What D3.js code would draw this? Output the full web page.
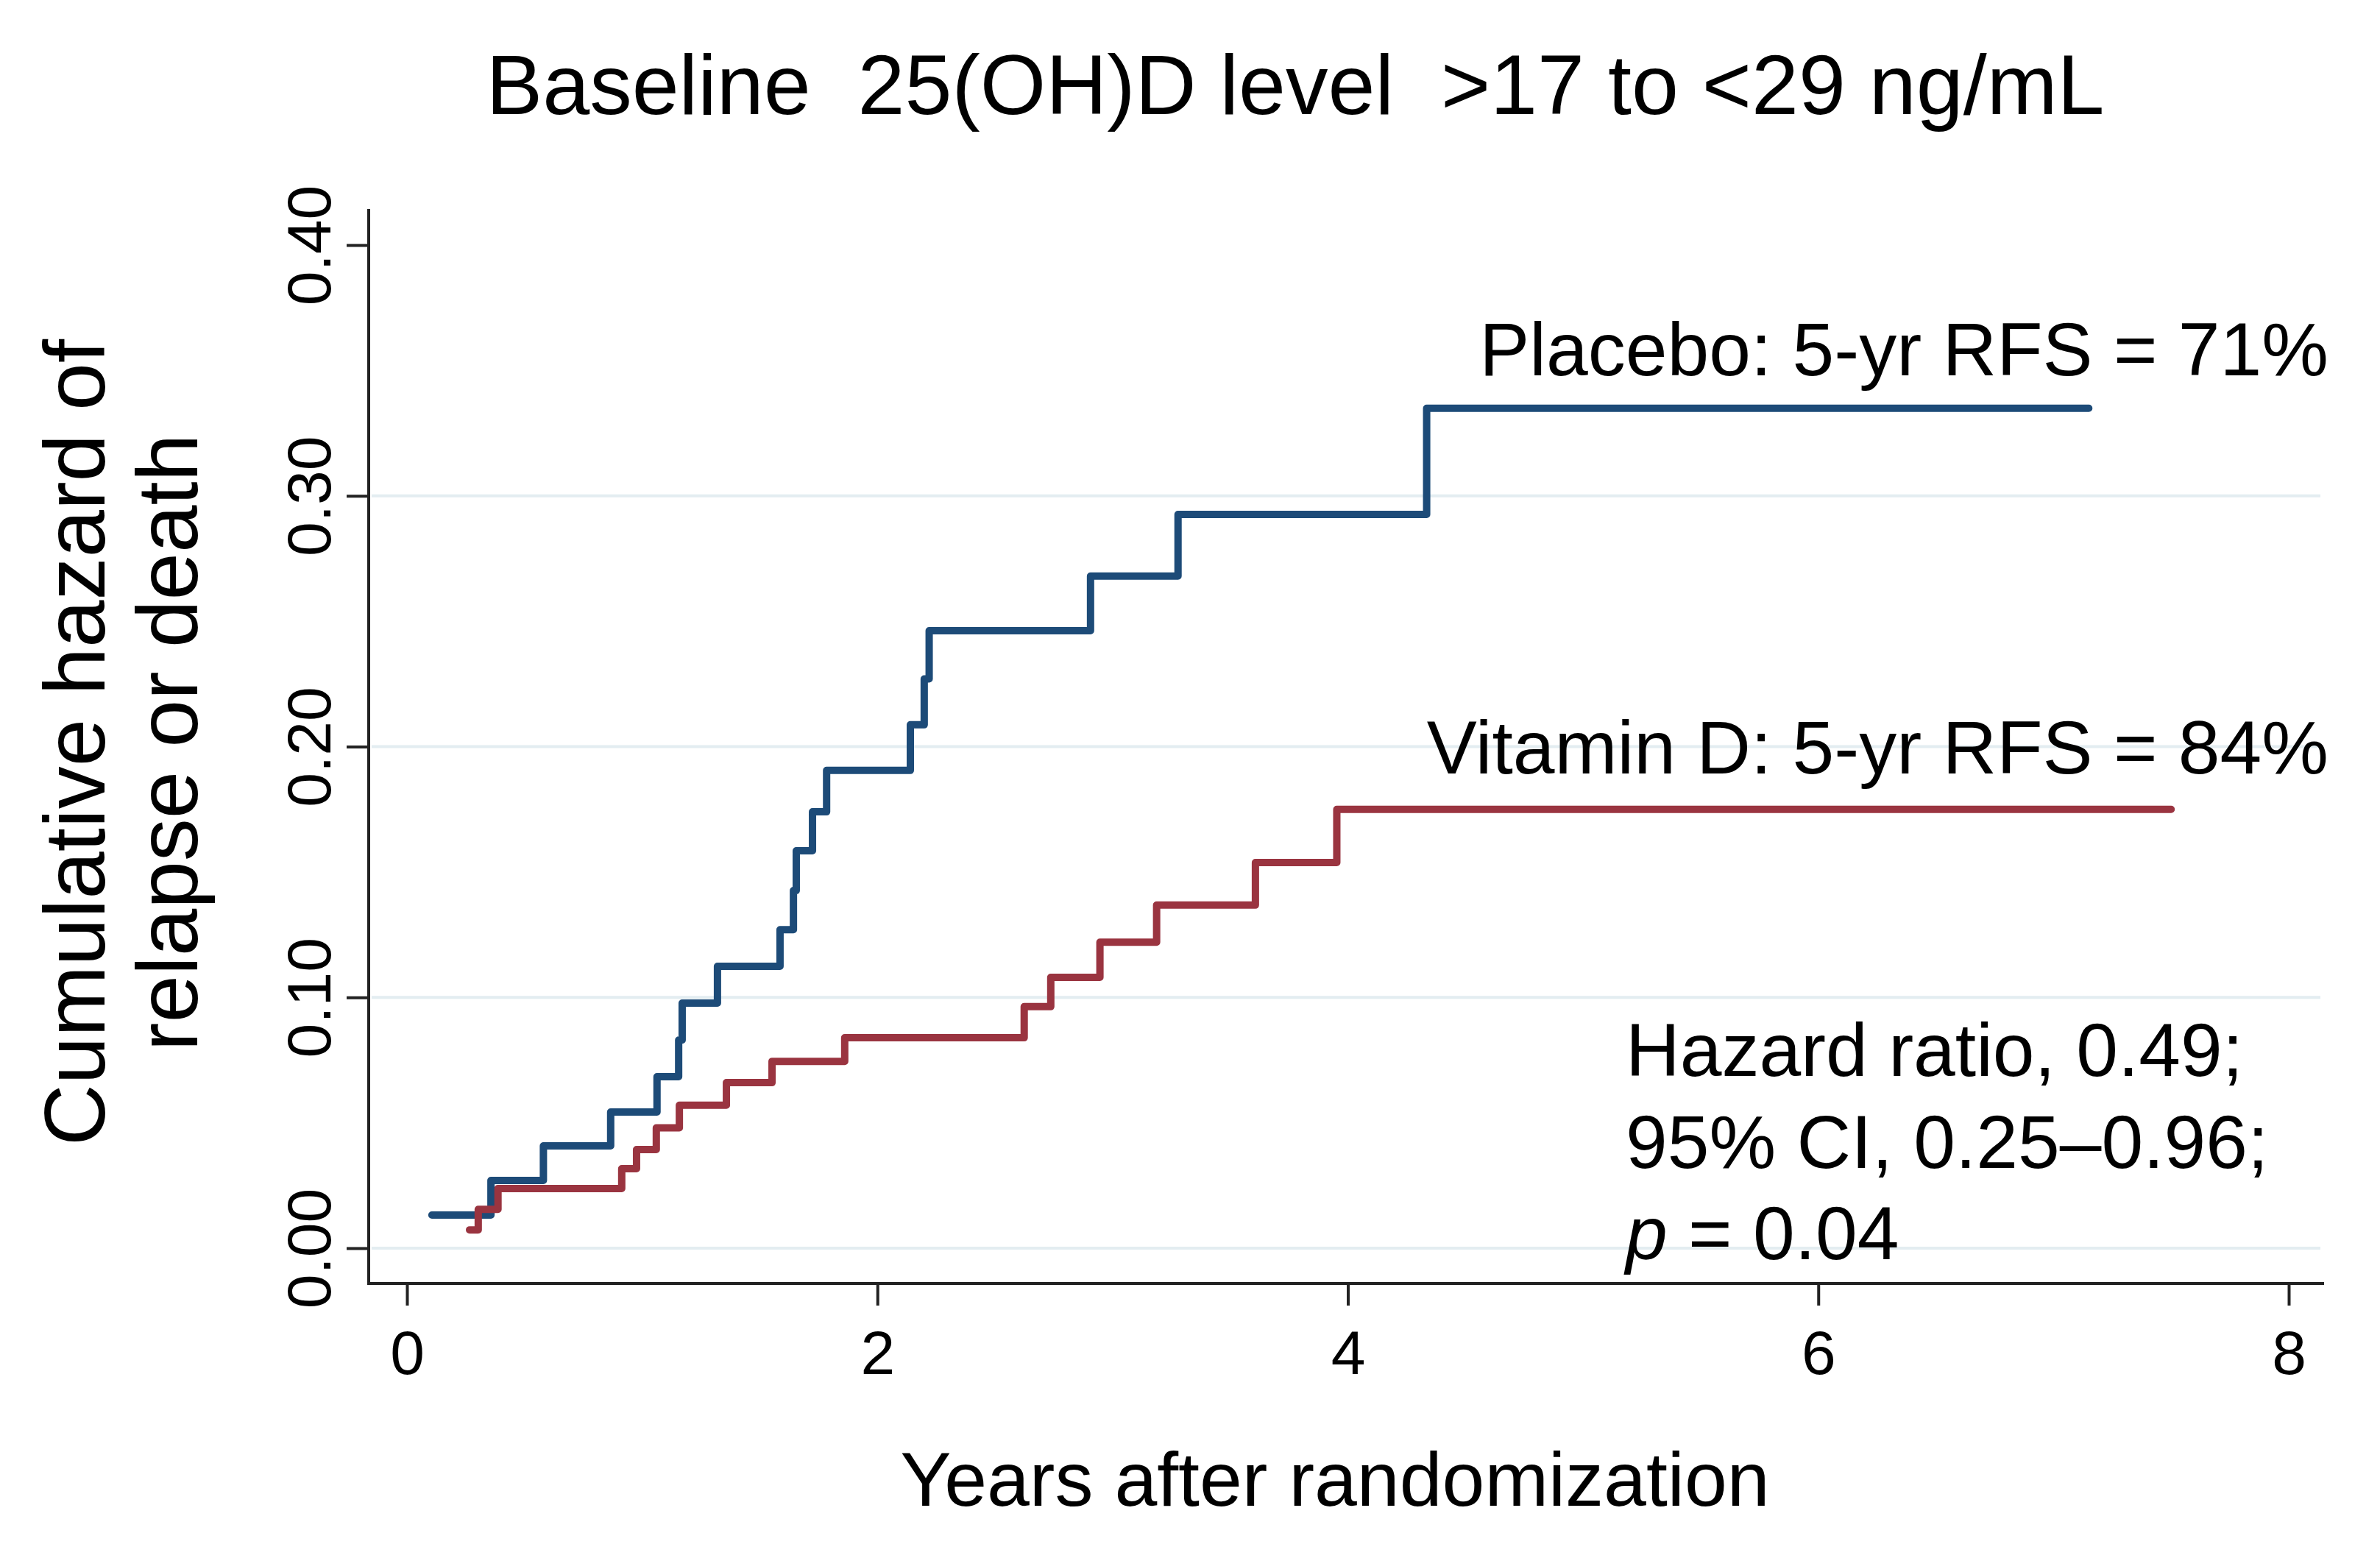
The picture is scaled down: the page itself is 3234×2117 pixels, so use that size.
<!DOCTYPE html>
<html>
<head>
<meta charset="utf-8">
<script src="https://cdn.jsdelivr.net/npm/d3@7"></script>
<style>
  body { margin: 0; background: #fff; }
  svg text { font-family: "Liberation Sans", Arial, sans-serif; fill: #000; }
  .axis path.domain { display: none; }
  .axis line { stroke: #222; stroke-width: 4; }
  .grid line { stroke: #e3edf1; stroke-width: 4; }
  .curve { fill: none; stroke-width: 10; stroke-linejoin: round; stroke-linecap: round; }
</style>
</head>
<body>
<svg id="chart"></svg>
<script>
var w = 3234,
    h = 2117;

// Nelson-Aalen steps (years, cumulative hazard)
var placeboYears = [0.106, 0.357, 0.58, 0.866, 1.063, 1.155, 1.17, 1.32, 1.586, 1.643, 1.655, 1.724, 1.784, 2.14, 2.199, 2.22, 2.906, 3.278, 4.335, 7.15];
var placeboHaz   = [0.0132, 0.027, 0.0408, 0.0543, 0.0684, 0.083, 0.0977, 0.1124, 0.127, 0.1426, 0.1585, 0.174, 0.1905, 0.2087, 0.227, 0.2462, 0.268, 0.2926, 0.3349, 0.3349];

var vitdYears = [0.266, 0.303, 0.387, 0.913, 0.976, 1.06, 1.158, 1.358, 1.552, 1.861, 2.624, 2.737, 2.946, 3.187, 3.607, 3.953, 7.50];
var vitdHaz   = [0.0073, 0.0155, 0.0238, 0.0317, 0.0393, 0.048, 0.057, 0.066, 0.0745, 0.0839, 0.0963, 0.108, 0.122, 0.1368, 0.1538, 0.175, 0.175];

var xTicks = [0, 2, 4, 6, 8];
var yTicks = [0, 0.1, 0.2, 0.3, 0.4];
var gridTicks = [0, 0.1, 0.2, 0.3];

var titleText = "Baseline  25(OH)D level  >17 to <29 ng/mL";
var yTitleLines = ["Cumulative hazard of", "relapse or death"];
var xTitleText = "Years after randomization";
var placeboLabel = "Placebo: 5-yr RFS = 71%";
var vitdLabel = "Vitamin D: 5-yr RFS = 84%";
var statsLines = ["Hazard ratio, 0.49;", "95% CI, 0.25\u20130.96;"];

var x = d3.scaleLinear().domain([0, 8]).range([553, 3110]);
var y = d3.scaleLinear().domain([0, 0.4]).range([1696, 333]);

var axisX = 501,    // position of the y axis line
    axisY = 1744;   // position of the x axis line

var svg = d3.select("#chart")
    .attr("width", w)
    .attr("height", h);

// gridlines
svg.append("g")
    .attr("class", "grid")
    .selectAll("line")
    .data(gridTicks)
    .enter()
    .append("line")
    .attr("x1", axisX + 4)
    .attr("x2", 3153)
    .attr("y1", function(d) { return y(d); })
    .attr("y2", function(d) { return y(d); });

// axes
var yAxis = svg.append("g")
    .attr("class", "axis y-axis")
    .attr("transform", "translate(" + axisX + ",0)")
    .call(d3.axisLeft(y).tickValues(yTicks).tickFormat(d3.format(".2f")).tickSize(30).tickSizeOuter(0));

yAxis.selectAll("text")
    .attr("transform", "rotate(-90)")
    .attr("x", 0)
    .attr("y", -52)
    .attr("dy", 0)
    .style("text-anchor", "middle")
    .style("font-size", "84px");

var xAxis = svg.append("g")
    .attr("class", "axis x-axis")
    .attr("transform", "translate(0," + axisY + ")")
    .call(d3.axisBottom(x).tickValues(xTicks).tickFormat(d3.format("d")).tickSize(30).tickSizeOuter(0));

xAxis.selectAll("text")
    .attr("y", 123)
    .attr("dy", 0)
    .style("font-size", "84px");

svg.append("line")
    .attr("x1", axisX).attr("x2", axisX)
    .attr("y1", 284).attr("y2", axisY + 2)
    .attr("stroke", "#222").attr("stroke-width", 4);

svg.append("line")
    .attr("x1", axisX - 2).attr("x2", 3158)
    .attr("y1", axisY).attr("y2", axisY)
    .attr("stroke", "#222").attr("stroke-width", 4);

// step curves
var step = d3.line()
    .x(function(d) { return x(d[0]); })
    .y(function(d) { return y(d[1]); })
    .curve(d3.curveStepAfter);

svg.append("path")
    .attr("class", "curve placebo")
    .attr("stroke", "#1d4b78")
    .attr("d", step(d3.zip(placeboYears, placeboHaz)));

svg.append("path")
    .attr("class", "curve vitd")
    .attr("stroke", "#9a3440")
    .attr("d", step(d3.zip(vitdYears, vitdHaz)));

// titles
svg.append("text")
    .attr("x", 1760)
    .attr("y", 155)
    .style("text-anchor", "middle")
    .style("font-size", "115px")
    .style("white-space", "pre")
    .text(titleText);

svg.append("text")
    .attr("x", 1814)
    .attr("y", 2046)
    .style("text-anchor", "middle")
    .style("font-size", "104px")
    .text(xTitleText);

var yTitle = svg.append("text")
    .attr("transform", "translate(142,1009) rotate(-90)")
    .style("text-anchor", "middle")
    .style("font-size", "116px")
    .style("white-space", "pre");

yTitle.selectAll("tspan")
    .data(yTitleLines)
    .enter()
    .append("tspan")
    .attr("x", 0)
    .attr("y", function(d, i) { return i * 126; })
    .text(function(d) { return d; });

// curve labels
svg.append("text")
    .attr("x", 3164)
    .attr("y", 510)
    .style("text-anchor", "end")
    .style("font-size", "102px")
    .text(placeboLabel);

svg.append("text")
    .attr("x", 3164)
    .attr("y", 1051)
    .style("text-anchor", "end")
    .style("font-size", "102px")
    .text(vitdLabel);

// hazard ratio box
var stats = svg.append("text")
    .attr("x", 2209)
    .attr("y", 1462)
    .style("font-size", "102px");

statsLines.forEach(function(line, i) {
    stats.append("tspan")
        .attr("x", 2209)
        .attr("y", 1462 + i * 124.5)
        .text(line);
});

var pLine = stats.append("tspan")
    .attr("x", 2209)
    .attr("y", 1462 + 2 * 124.5);
pLine.append("tspan").style("font-style", "italic").text("p");
pLine.append("tspan").text(" = 0.04");
</script>
</body>
</html>
